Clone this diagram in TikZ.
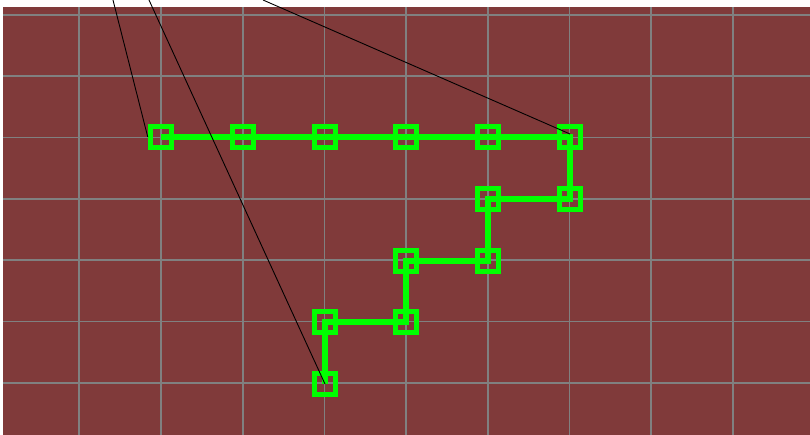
\documentclass[tikz,border=0pt]{standalone}
\usepackage{tikz}
\usetikzlibrary{positioning}

\definecolor{boardred}{RGB}{128,58,58}
\definecolor{gridgray}{RGB}{128,128,128}
\definecolor{pathgreen}{RGB}{0,255,0}

\begin{document}
\begin{tikzpicture}[
  x=1pt, y=-1pt,
  gridline/.style={draw=gridgray, line width=1.8pt},
  marker/.style={rectangle, draw=pathgreen, line width=5pt, minimum size=21.5pt, inner sep=0pt},
  route/.style={draw=pathgreen, line width=5.5pt},
  ray/.style={draw=black, line width=0.9pt}
]
  \useasboundingbox (0,0) rectangle (810,435);
  \clip (0,0) rectangle (810,435);

  % Board and grid
  \fill[boardred] (3,7.5) rectangle (812,437);
  \foreach \gx in {0,...,8}
    \draw[gridline] ({79.3+81.7*\gx},7.5) -- ({79.3+81.7*\gx},437);
  \foreach \gy in {0,...,6}
    \draw[gridline] (3,{15+61.3*\gy}) -- (812,{15+61.3*\gy});

  % Route markers
  \foreach \nm/\px/\py in {p1/161/137, p2/243/137, p3/325/137, p4/406/137,
      p5/488/137, p6/570/137, p7/570/199, p8/488/199, p9/488/261,
      p10/406/261, p11/406/322, p12/325/322, p13/325/384}
    \node[marker] (\nm) at (\px,\py) {};

  % Route through the markers
  \draw[route] (p1.center) -- (p2.center) -- (p3.center) -- (p4.center)
    -- (p5.center) -- (p6.center) -- (p7.center) -- (p8.center)
    -- (p9.center) -- (p10.center) -- (p11.center) -- (p12.center)
    -- (p13.center);

  % Rays coming in from above
  \coordinate (ra) at (113,0);
  \coordinate (rb) at (149,0);
  \coordinate (rc) at (263,0);
  \draw[ray] (ra) -- (p1.west);
  \draw[ray] (rb) -- (p13.center);
  \draw[ray] (rc) -- ([yshift=3pt]p6.center);
\end{tikzpicture}
\end{document}
